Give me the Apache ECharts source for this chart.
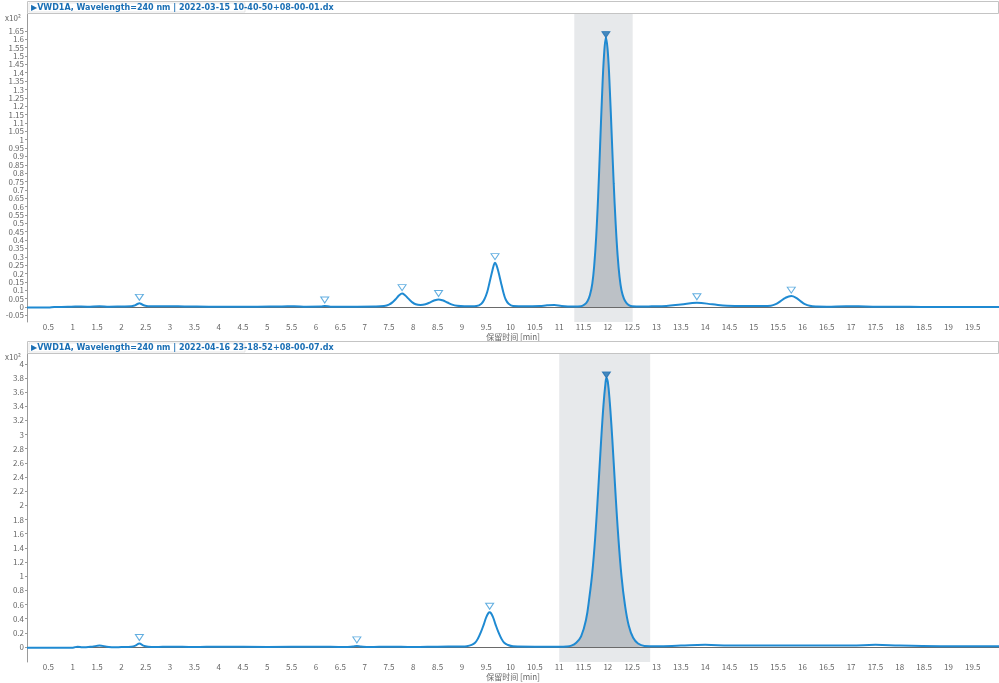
<!DOCTYPE html>
<html><head><meta charset="utf-8">
<script src="https://cdn.jsdelivr.net/npm/echarts@6/dist/echarts.min.js"></script>
<style>html,body{margin:0;padding:0;background:#fff}#c{width:999px;height:683px}</style>
</head><body><div id="c"></div>
<script>
// ---------- data ----------
const topTitle = '\u25B6VWD1A, Wavelength=240 nm | 2022-03-15 10-40-50+08-00-01.dx';
const bottomTitle = '\u25B6VWD1A, Wavelength=240 nm | 2022-04-16 23-18-52+08-00-07.dx';
const xName = '保留时间 [min]';
const yUnit = 'x10\u00B2';
const xTicks = [0.5,1,1.5,2,2.5,3,3.5,4,4.5,5,5.5,6,6.5,7,7.5,8,8.5,9,9.5,10,10.5,11,11.5,12,12.5,13,13.5,14,14.5,15,15.5,16,16.5,17,17.5,18,18.5,19,19.5];
const topYTicks = [-0.05,0,0.05,0.1,0.15,0.2,0.25,0.3,0.35,0.4,0.45,0.5,0.55,0.6,0.65,0.7,0.75,0.8,0.85,0.9,0.95,1,1.05,1.1,1.15,1.2,1.25,1.3,1.35,1.4,1.45,1.5,1.55,1.6,1.65];
const bottomYTicks = [0,0.2,0.4,0.6,0.8,1,1.2,1.4,1.6,1.8,2,2.2,2.4,2.6,2.8,3,3.2,3.4,3.6,3.8,4];

const topTrace = [[0.06,-0.003],[0.5,-0.003],[0.62,0.0],[0.9,0.001],[1.05,0.003],[1.3,0.002],[1.55,0.005],[1.75,0.002],[2.0,0.003],[2.2,0.004],[2.28,0.01],[2.33,0.018],[2.37,0.022],[2.41,0.018],[2.46,0.01],[2.55,0.004],[2.8,0.004],[3.0,0.005],[3.3,0.003],[3.8,0.002],[4.3,0.002],[4.8,0.002],[5.3,0.003],[5.55,0.005],[5.8,0.002],[6.1,0.003],[6.18,0.006],[6.3,0.002],[6.7,0.002],[7.2,0.003],[7.4,0.006],[7.5,0.014],[7.58,0.03],[7.65,0.05],[7.71,0.07],[7.77,0.08],[7.83,0.07],[7.9,0.05],[7.97,0.03],[8.05,0.016],[8.15,0.012],[8.25,0.016],[8.35,0.028],[8.44,0.04],[8.52,0.045],[8.6,0.04],[8.7,0.027],[8.8,0.014],[8.9,0.007],[9.05,0.004],[9.2,0.004],[9.3,0.006],[9.4,0.02],[9.46,0.045],[9.52,0.09],[9.57,0.15],[9.62,0.21],[9.65,0.245],[9.68,0.265],[9.71,0.25],[9.75,0.21],[9.8,0.15],[9.85,0.09],[9.9,0.045],[9.96,0.02],[10.05,0.006],[10.3,0.004],[10.6,0.006],[10.75,0.01],[10.9,0.012],[11.05,0.006],[11.3,0.003],[11.45,0.005],[11.52,0.015],[11.58,0.035],[11.63,0.07],[11.68,0.14],[11.72,0.25],[11.76,0.42],[11.8,0.66],[11.84,0.96],[11.88,1.26],[11.92,1.5],[11.96,1.61],[12.0,1.52],[12.04,1.3],[12.08,1.02],[12.12,0.74],[12.16,0.5],[12.2,0.31],[12.24,0.18],[12.28,0.1],[12.33,0.05],[12.38,0.025],[12.44,0.01],[12.5,0.004],[12.7,0.003],[12.9,0.004],[13.2,0.006],[13.5,0.015],[13.83,0.025],[14.15,0.016],[14.45,0.007],[14.8,0.006],[15.2,0.006],[15.35,0.008],[15.45,0.017],[15.55,0.035],[15.65,0.055],[15.77,0.065],[15.87,0.055],[15.96,0.035],[16.05,0.017],[16.15,0.007],[16.3,0.003],[16.5,0.002],[16.9,0.005],[17.3,0.003],[17.7,0.001],[18.2,0.001],[18.7,0.0],[19.2,0.0],[19.7,0.0],[20.04,0.0]];

const bottomTrace = [[0.06,-0.01],[0.5,-0.01],[1.0,-0.01],[1.1,0.005],[1.2,-0.005],[1.4,0.005],[1.55,0.02],[1.7,0.005],[1.85,-0.005],[2.0,0.0],[2.2,0.005],[2.29,0.02],[2.37,0.05],[2.45,0.02],[2.55,0.005],[2.7,0.0],[3.0,0.005],[3.5,0.0],[4.0,0.005],[5.0,0.0],[6.0,0.005],[6.6,0.0],[6.76,0.008],[6.84,0.015],[6.92,0.008],[7.1,0.0],[7.5,0.005],[8.0,0.0],[8.5,0.005],[9.0,0.008],[9.1,0.012],[9.2,0.03],[9.27,0.06],[9.33,0.12],[9.39,0.21],[9.45,0.32],[9.5,0.42],[9.54,0.475],[9.57,0.49],[9.6,0.475],[9.64,0.42],[9.69,0.32],[9.75,0.21],[9.81,0.12],[9.87,0.06],[9.94,0.03],[10.05,0.01],[10.5,0.005],[11.0,0.005],[11.15,0.008],[11.25,0.02],[11.35,0.06],[11.45,0.15],[11.55,0.38],[11.62,0.7],[11.68,1.05],[11.74,1.55],[11.8,2.2],[11.86,2.9],[11.91,3.42],[11.95,3.72],[11.97,3.8],[12.0,3.74],[12.04,3.45],[12.09,2.95],[12.15,2.25],[12.21,1.6],[12.28,1.0],[12.35,0.6],[12.43,0.3],[12.52,0.13],[12.62,0.05],[12.75,0.015],[13.0,0.01],[13.5,0.02],[14.0,0.03],[14.5,0.02],[15.0,0.02],[16.0,0.02],[17.0,0.02],[17.5,0.03],[18.0,0.02],[19.0,0.01],[20.04,0.01]];

const topPeaks = [[2.37,0.022],[6.18,0.006],[7.77,0.08],[8.52,0.045],[9.68,0.265],[13.83,0.025],[15.77,0.065]];
const topMainPeak = [[11.96,1.61]];
const bottomPeaks = [[2.37,0.05],[6.84,0.015],[9.57,0.49]];
const bottomMainPeak = [[11.97,3.8]];

const topBand = [11.31, 12.51];
const bottomBand = [11.0, 12.87];
const topIntegration = [11.45, 12.5];
const bottomIntegration = [11.15, 12.75];

// ---------- styles ----------
const LINE = '#1f8ad2';
const FONT = 'Noto Sans CJK SC';
const chart = echarts.init(document.getElementById('c'), null, {renderer: 'canvas'});

function fmt(v){ return String(+(+v).toFixed(2)); }

function xAxis(gi){
  return {
    type: 'value', gridIndex: gi, min: 0.06, max: 20.04,
    name: xName, nameLocation: 'middle', nameGap: 11,
    nameTextStyle: {fontSize: 8, color: '#666', fontFamily: FONT},
    axisLine: {show: false},
    axisTick: {show: false, customValues: xTicks},
    axisLabel: {customValues: xTicks, fontSize: 8, color: '#666', margin: 1, fontFamily: FONT, formatter: fmt},
    splitLine: {show: false}
  };
}
function yAxis(gi, min, max, ticks){
  return {
    type: 'value', gridIndex: gi, min: min, max: max,
    axisLine: {show: true, lineStyle: {color: '#9a9a9a', width: 1}},
    axisTick: {show: true, length: 2, customValues: ticks, lineStyle: {color: '#9a9a9a'}},
    axisLabel: {customValues: ticks, fontSize: 8, color: '#666', margin: 3, fontFamily: FONT, formatter: fmt},
    splitLine: {show: false}
  };
}
function seriesFor(gi, trace, peaks, main, band, integ){
  const fill = trace.filter(p => p[0] >= integ[0] && p[0] <= integ[1]);
  return [
    {
      type: 'line', xAxisIndex: gi, yAxisIndex: gi, data: fill, symbol: 'none',
      smooth: 0.4, lineStyle: {width: 0, opacity: 0},
      areaStyle: {color: '#bcc1c6', opacity: 1, origin: 0}, silent: true, z: 2,
      markArea: {silent: true, itemStyle: {color: '#e7e9eb'}, data: [[{xAxis: band[0]}, {xAxis: band[1]}]]}
    },
    {
      type: 'line', xAxisIndex: gi, yAxisIndex: gi, data: trace, symbol: 'none',
      smooth: 0.4, lineStyle: {color: LINE, width: 2}, z: 4, silent: true,
      markLine: {silent: true, symbol: 'none', label: {show: false},
        lineStyle: {color: '#6a6a6a', width: 1, type: 'solid'}, data: [{yAxis: 0}], z: 3}
    },
    {
      type: 'scatter', xAxisIndex: gi, yAxisIndex: gi, data: peaks, symbol: 'triangle',
      symbolRotate: 180, symbolSize: [8, 6], symbolOffset: [0, -6], z: 6, silent: true,
      itemStyle: {color: '#ffffff', borderColor: '#3b9ad8', borderWidth: 1}
    },
    {
      type: 'scatter', xAxisIndex: gi, yAxisIndex: gi, data: main, symbol: 'triangle',
      symbolRotate: 180, symbolSize: [8, 6], symbolOffset: [0, -3], z: 6, silent: true,
      itemStyle: {color: '#1b6fb3', borderColor: '#1b6fb3', borderWidth: 1}
    }
  ];
}

function titleBar(y, text){
  return [
    {type: 'rect', shape: {x: 27.5, y: y + 0.5, width: 971, height: 12}, style: {fill: '#fff', stroke: '#c4c4c4', lineWidth: 1}, z: 10},
    {type: 'rect', shape: {x: 29, y: y + 2, width: 216, height: 9}, style: {fill: '#fff', stroke: '#cfcfcf', lineWidth: 0.5}, z: 11},
    {type: 'text', x: 31, y: y + 6.5, style: {text: text, fill: '#1a6fb5', font: 'bold 8px "Liberation Sans Narrow", "DejaVu Sans", sans-serif', verticalAlign: 'middle'}, z: 12}
  ];
}

chart.setOption({
  animation: false,
  backgroundColor: '#ffffff',
  grid: [
    {left: 27, top: 14, width: 972, height: 308, containLabel: false},
    {left: 27, top: 352, width: 972, height: 310, containLabel: false}
  ],
  xAxis: [xAxis(0), xAxis(1)],
  yAxis: [yAxis(0, -0.0897, 1.751, topYTicks), yAxis(1, -0.212, 4.166, bottomYTicks)],
  series: [].concat(
    seriesFor(0, topTrace, topPeaks, topMainPeak, topBand, topIntegration),
    seriesFor(1, bottomTrace, bottomPeaks, bottomMainPeak, bottomBand, bottomIntegration)
  ),
  graphic: [].concat(
    titleBar(1, topTitle),
    titleBar(341, bottomTitle),
    [
      {type: 'text', x: 5, y: 14, style: {text: yUnit, fill: '#666', font: '8px "Noto Sans CJK SC"'}, z: 12},
      {type: 'text', x: 5, y: 353, style: {text: yUnit, fill: '#666', font: '8px "Noto Sans CJK SC"'}, z: 12}
    ]
  )
});
</script></body></html>
